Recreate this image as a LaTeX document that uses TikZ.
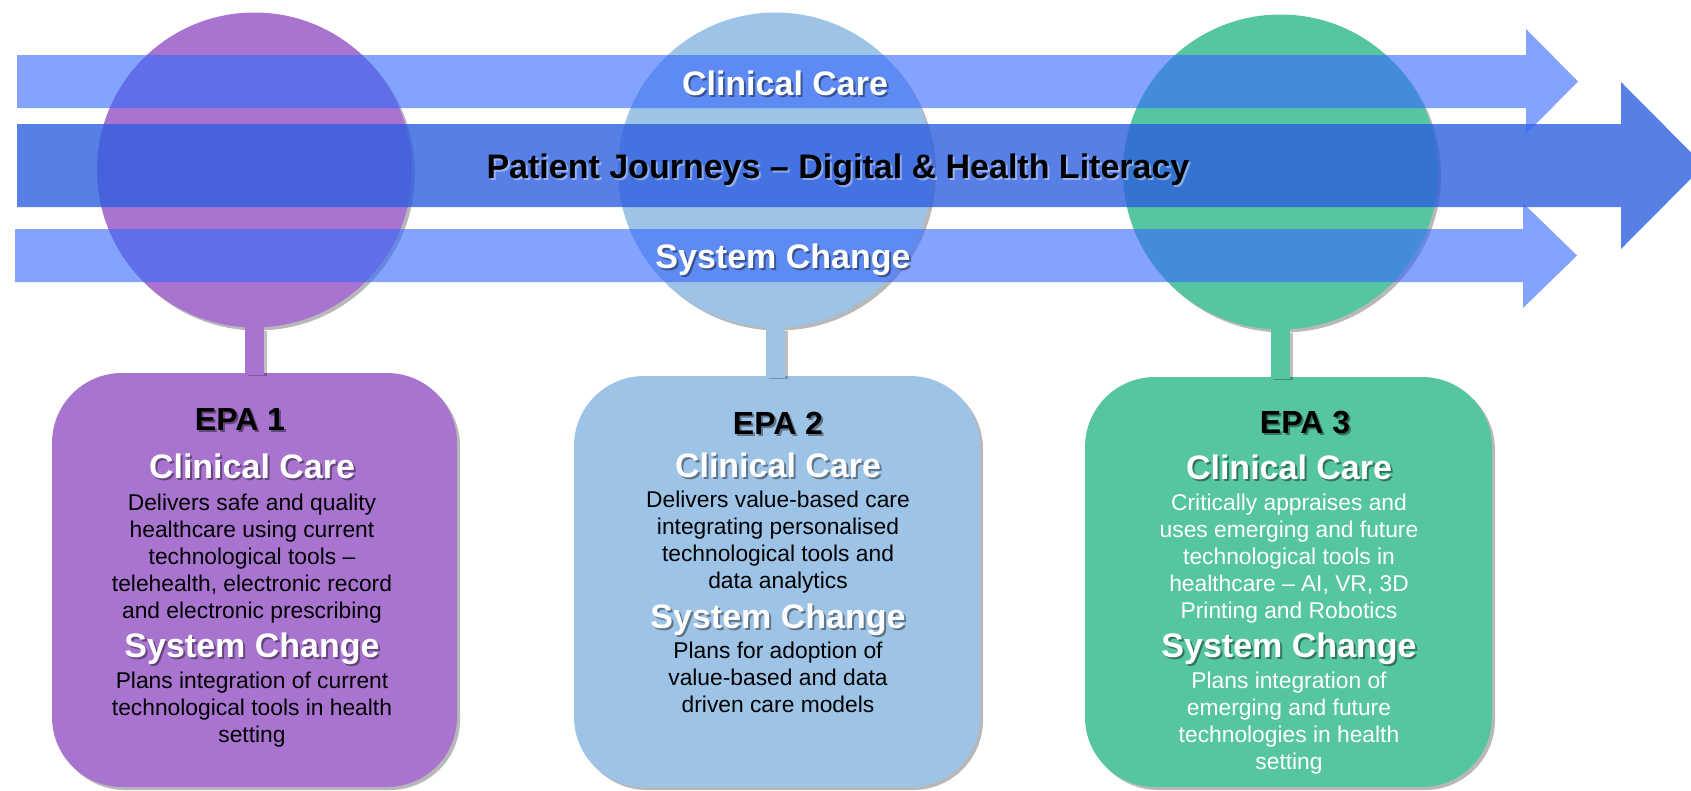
\documentclass[tikz,border=0pt]{standalone}
\usepackage{fontspec}
\setmainfont{Liberation Sans}
\usetikzlibrary{shadows}
\definecolor{epaA}{RGB}{168,116,207}
\definecolor{epaB}{RGB}{157,195,230}
\definecolor{epaC}{RGB}{85,198,161}
\definecolor{barlight}{RGB}{56,106,252}
\definecolor{barmid}{RGB}{46,95,224}
\tikzset{
  softshadow/.style={drop shadow={shadow xshift=3pt, shadow yshift=-3pt, opacity=0.28, fill=black}},
  disc/.style={circle, minimum size=315pt, inner sep=0pt, softshadow},
  epabox/.style={rectangle, rounded corners=70pt, inner sep=0pt, softshadow},
  stemline/.style={line width=19pt},
  stemshadow/.style={line width=19pt, black, opacity=0.25, transform canvas={shift={(3pt,-3pt)}}},
  lightbar/.style={fill=barlight, fill opacity=0.62},
  midbar/.style={fill=barmid, fill opacity=0.8},
  headtxt/.style={inner sep=0pt, text=white, font=\bfseries\fontsize{34}{40}\selectfont},
  epatxt/.style={inner sep=0pt, text=black, font=\bfseries\fontsize{32}{38}\selectfont},
  journeytxt/.style={inner sep=0pt, text=black, font=\bfseries\fontsize{34}{40}\selectfont},
  bodytxt/.style={inner sep=0pt, font=\fontsize{22.8}{27}\selectfont},
}
% name, x, y, style, shadow colour, text
\newcommand{\shtxt}[6]{%
  \node[#4, text=#5, text opacity=0.4, anchor=base] (#1s) at (#2+2,#3+2) {#6};
  \node[#4, anchor=base] (#1) at (#2,#3) {#6};}
% name prefix, x, first baseline, style, list of lines
\newcommand{\bodylines}[5]{%
  \foreach \t [count=\i from 0] in {#5} {
    \node[bodytxt, #4, anchor=base] (#1\i) at (#2, #3+27.2*\i) {\t};
  }}
\begin{document}
\begin{tikzpicture}[x=1pt, y=-1pt]
\useasboundingbox (0,0) rectangle (1691,790);
\clip (0,0) rectangle (1691,790);

% circles and boxes
\node[disc, fill=epaA] (c1) at (254.5,170) {};
\node[disc, fill=epaB] (c2) at (775.5,170) {};
\node[disc, fill=epaC] (c3) at (1280.5,172) {};

\node[epabox, fill=epaA, minimum width=405pt, minimum height=414pt] (b1) at (254.5,580) {};
\node[epabox, fill=epaB, minimum width=406pt, minimum height=411pt] (b2) at (777,581.5) {};
\node[epabox, fill=epaC, minimum width=407pt, minimum height=410pt] (b3) at (1288.5,582) {};

% stems
\draw[stemshadow] (c1.south) -- (c1.south |- b1.north);
\draw[stemline, epaA] ([yshift=4pt]c1.south) -- ([yshift=-2pt]c1.south |- b1.north);
\draw[stemshadow] (c2.south) -- (c2.south |- b2.north);
\draw[stemline, epaB] ([yshift=4pt]c2.south) -- ([yshift=-2pt]c2.south |- b2.north);
\draw[stemshadow] (c3.south) -- (c3.south |- b3.north);
\draw[stemline, epaC] ([yshift=4pt]c3.south) -- ([yshift=-2pt]c3.south |- b3.north);

% arrows
\fill[midbar] (17,124) -- (1621,124) -- (1621,82) -- (1704,165.5) -- (1621,249) -- (1621,207) -- (17,207) -- cycle;
\fill[lightbar] (17,55) -- (1526,55) -- (1526,29) -- (1578,81.5) -- (1526,134) -- (1526,108) -- (17,108) -- cycle;
\fill[lightbar] (15,229) -- (1523,229) -- (1523,203) -- (1577,255.5) -- (1523,308) -- (1523,282) -- (15,282) -- cycle;

% arrow labels
\shtxt{ccbar}{785}{95}{headtxt}{black}{Clinical Care}
\shtxt{jbar}{838}{178}{journeytxt}{white}{Patient Journeys – Digital \& Health Literacy}
\shtxt{scbar}{783}{268}{headtxt}{black}{System Change}

% EPA 1
\shtxt{e1}{240}{430}{epatxt}{black}{EPA 1}
\shtxt{e1cc}{252}{478}{headtxt}{black}{Clinical Care}
\bodylines{e1a}{252}{510}{text=black}{Delivers safe and quality, healthcare using current, technological tools –, {telehealth, electronic record}, and electronic prescribing}
\shtxt{e1sc}{252}{657}{headtxt}{black}{System Change}
\bodylines{e1b}{252}{688}{text=black}{Plans integration of current, technological tools in health, setting}

% EPA 2
\shtxt{e2}{778}{434}{epatxt}{black}{EPA 2}
\shtxt{e2cc}{778}{477}{headtxt}{black}{Clinical Care}
\bodylines{e2a}{778}{507}{text=black}{Delivers value-based care, integrating personalised, technological tools and, data analytics}
\shtxt{e2sc}{778}{628}{headtxt}{black}{System Change}
\bodylines{e2b}{778}{658}{text=black}{Plans for adoption of, value-based and data, driven care models}

% EPA 3
\shtxt{e3}{1305}{433}{epatxt}{black}{EPA 3}
\shtxt{e3cc}{1289}{479}{headtxt}{black}{Clinical Care}
\bodylines{e3a}{1289}{510}{text=white}{Critically appraises and, uses emerging and future, technological tools in, {healthcare – AI, VR, 3D}, Printing and Robotics}
\shtxt{e3sc}{1289}{657}{headtxt}{black}{System Change}
\bodylines{e3b}{1289}{688}{text=white}{Plans integration of, emerging and future, technologies in health, setting}
\end{tikzpicture}
\end{document}
